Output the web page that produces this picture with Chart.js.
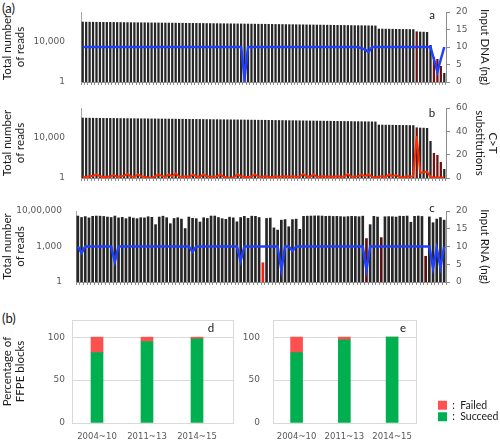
<!DOCTYPE html>
<html><head><meta charset="utf-8">
<script src="https://cdn.jsdelivr.net/npm/chart.js@4.4.1/dist/chart.umd.min.js"></script>
<style>
html,body{margin:0;padding:0;background:#fff;width:500px;height:440px;overflow:hidden;}
canvas{position:absolute;}
.pl{position:absolute;font-family:Lato,"Open Sans",sans-serif;font-size:13px;color:#1a1a1a;line-height:1;}
</style></head>
<body>
<div class="pl" style="left:2px;top:2px">(a)</div>
<div class="pl" style="left:2px;top:312px">(b)</div>
<canvas id="cA" width="500" height="94" style="left:0;top:0"></canvas>
<canvas id="cB" width="500" height="94" style="left:0;top:96px"></canvas>
<canvas id="cC" width="500" height="98" style="left:0;top:196px"></canvas>
<canvas id="cD" width="238" height="140" style="left:0;top:300px"></canvas>
<canvas id="cE" width="262" height="140" style="left:238px;top:300px"></canvas>
<script>
// ---------- DATA ----------
// DNA samples (panels a, b): total reads, input DNA (ng), C>T substitutions
const dnaReads = [
  1070000,1050000,1040000,1030000,1020000,1010000,1000000,990000,985000,975000,
  965000,955000,950000,940000,930000,925000,915000,905000,900000,890000,
  880000,875000,865000,860000,850000,845000,835000,830000,820000,815000,
  805000,800000,790000,785000,775000,770000,760000,755000,745000,740000,
  730000,725000,715000,710000,700000,695000,690000,680000,675000,665000,
  660000,650000,645000,640000,630000,625000,615000,610000,605000,595000,
  590000,585000,575000,570000,565000,555000,550000,545000,540000,530000,
  525000,520000,515000,505000,500000,495000,490000,485000,480000,470000,
  465000,460000,455000,450000,445000,440000,215000,212000,210000,207000,
  205000,202000,200000,197000,195000,192000,190000,115000,108000,105000,
  100000,5000,320,200,40,8
];
const dnaFailed = [97, 102, 103, 104];
const dnaInput = [
  10,10,10,10,10,10,10,10,10,10, 10,10,10,10,10,10,10,10,10,10,
  10,10,10,10,10,10,10,10,10,10, 10,10,10,10,10,10,10,10,10,10,
  10,10,10,10,10,10,10,1,10,10, 10,10,10,10,10,10,10,10,10,10,
  10,10,10,10,10,10,10,10,10,10, 10,10,10,10,10,10,10,10,10,10,
  10,9.6,9.3,8.6,10,10,10,10,10,10, 10,10,10,10,10,10,10,10,10,10,
  10,10,6.5,2.9,6.5,10
];
const dnaCT = [
  1.0,0.8,1.5,2.0,3.0,1.5,0.8,1.0,1.2,2.5, 1.0,1.5,2.0,3.5,1.2,1.0,3.0,1.5,1.0,0.5,
  0.0,1.5,3.0,1.8,1.0,3.0,1.5,4.0,1.2,1.0, 1.5,1.0,2.8,1.5,1.0,3.0,1.5,1.0,1.2,1.5,
  2.8,1.0,0.5,0.0,1.0,3.0,1.5,1.0,0.8,1.2, 3.0,1.2,1.0,1.5,1.0,0.8,1.5,1.0,1.2,1.5,
  1.0,1.5,1.0,1.2,3.5,1.5,1.0,3.0,1.0,1.2, 1.5,1.0,1.2,1.0,1.5,1.0,1.2,3.5,1.0,1.2,
  1.5,3.0,1.5,3.0,1.2,0.5,1.0,1.5,1.0,3.0, 1.5,2.5,1.0,0.5,1.5,1.2,1.5,36,4.5,5.0,
  5.5,1.0,0.5,0.5,0.5,0.5
];
// RNA samples (panel c): total reads, input RNA (ng)
const rnaReads = [
  400000,300000,360000,280000,380000,400000,390000,370000,330000,300000,
  400000,280000,310000,240000,330000,270000,240000,290000,280000,350000,
  310000,75000,330000,390000,290000,90000,250000,290000,220000,35000,
  330000,260000,240000,125000,290000,250000,400000,400000,300000,240000,
  210000,320000,280000,130000,300000,380000,260000,390000,380000,300000,
  45,250000,270000,40000,26000,180000,200000,50000,200000,220000,
  30000,380000,390000,400000,410000,410000,400000,380000,390000,370000,
  380000,360000,340000,360000,380000,370000,350000,390000,5000,75000,
  380000,330000,6000,350000,360000,350000,330000,390000,380000,400000,
  120000,380000,400000,370000,160,340000,110000,220000,300000,180000
];
const rnaFailed = [50];
const rnaLow = [78, 82, 94];
const rnaInput = [
  10,8.2,10,10,10,10,10,10,10,10, 5.7,10,10,10,10,10,10,10,10,10,
  10,10,10,10,10,10,10,10,10,10, 10,8.5,10,10,10,10,10,10,10,10,
  10,10,10,10,5.9,10,10,10,10,10, 10,10,10,10,10,3.4,10,10,8.8,10,
  10,10,10,10,10,10,10,10,10,10, 10,10,10,10,10,10,10,10,3.4,10,
  10,10,10,10,10,10,10,10,10,10, 10,10,10,10,10,10,3.9,9.5,4.1,10
];
// Panel (b): percentage of FFPE blocks
const periods = ['2004~10', '2011~13', '2014~15'];
const dnaSucceedPct = [82, 95, 98];
const dnaFailedPct = [18, 5, 2];
const rnaSucceedPct = [82, 97, 100];
const rnaFailedPct = [18, 3, 0];
// Tick values and labels
const readTicksDNA = [1, 10000];
const readTickLabelsDNA = ['1', '10,000'];
const readTicksRNA = [1, 1000, 1000000];
const readTickLabelsRNA = ['1', '1,000', '10,00,000'];
const inputTicks = [0, 5, 10, 15, 20];
const ctTicks = [0, 10, 20, 30, 40, 50, 60];
const pctTicks = [0, 50, 100];

// ---------- STYLE ----------
const TICK_FONT = {family: '"DejaVu Sans", Verdana, sans-serif', size: 9};
const TITLE_FONT = {family: 'Lato, "Open Sans", sans-serif', size: 11.5};
const TICK_COLOR = '#595959';
const AXIS_COLOR = '#8c8c8c';
const TEXT_COLOR = '#1a1a1a';
const CLEAR = 'rgba(0,0,0,0)';

const letterPlugin = {
  id: 'panelLetter',
  afterDraw(chart, args, o) {
    if (!o || !o.text) return;
    const {ctx, chartArea: a} = chart;
    ctx.save();
    ctx.font = '11.5px Lato, "Open Sans", sans-serif';
    ctx.fillStyle = TEXT_COLOR;
    ctx.textAlign = 'center';
    ctx.textBaseline = 'middle';
    ctx.fillText(o.text, a.right + o.dx, a.top + o.dy);
    ctx.restore();
  }
};
const framePlugin = {
  id: 'frame',
  beforeDatasetsDraw(chart) {
    const {ctx, chartArea: c} = chart;
    ctx.save();
    ctx.strokeStyle = '#d9d9d9';
    ctx.lineWidth = 1;
    ctx.strokeRect(Math.round(c.left) + 0.5, Math.round(c.top) + 0.5, Math.round(c.width), Math.round(c.height));
    ctx.restore();
  }
};

function sampleLabels(n) { return Array.from({length: n}, (_, i) => String(i + 1)); }
function colorsFor(n, groups) {
  return Array.from({length: n}, (_, i) => {
    for (const g of groups) if (g.idx.includes(i)) return g.color;
    return '#262626';
  });
}

function topPanel(id, c) {
  return new Chart(document.getElementById(id), {
    type: 'bar',
    data: {
      labels: c.labels,
      datasets: [
        {type: 'line', label: c.lineLabel, data: c.line, xAxisID: 'x', yAxisID: 'y2',
         borderColor: c.lineColor, borderWidth: c.lineWidth, pointRadius: 0, tension: 0, order: 0},
        {type: 'bar', label: 'Total number of reads', data: c.reads, xAxisID: 'x', yAxisID: 'y',
         backgroundColor: c.colors, barPercentage: c.barPct, categoryPercentage: 1, order: 1}
      ]
    },
    options: {
      responsive: false, animation: false, events: [],
      layout: {padding: {top: c.padTop, left: 0, right: 0, bottom: 0}},
      plugins: {legend: {display: false}, tooltip: {enabled: false},
                panelLetter: {text: c.letter, dx: -14, dy: c.letterDy}},
      scales: {
        x: {ticks: {display: false},
            grid: {display: true, drawOnChartArea: false, drawTicks: true, tickLength: 3, color: AXIS_COLOR, offset: true},
            border: {display: true, color: AXIS_COLOR},
            afterFit(s) { s.height = c.xH; }},
        y: {type: 'logarithmic', position: 'left', min: 1, max: c.logMax,
            afterBuildTicks(s) { s.ticks = c.logTicks.map(v => ({value: v})); },
            ticks: {font: TICK_FONT, color: TICK_COLOR, padding: 2,
                    callback: (v) => c.logLabels[c.logTicks.indexOf(v)]},
            grid: {display: false, drawTicks: true, tickLength: c.leftGap},
            border: {display: true, color: '#a6a6a6'},
            title: {display: true, text: ['Total number', 'of reads'], font: TITLE_FONT, color: TEXT_COLOR, padding: {top: 0, bottom: 0}},
            afterFit(s) { s.width = c.leftW; }},
        y2: {position: 'right', min: 0, max: c.rMax,
            afterBuildTicks(s) { s.ticks = c.rTicks.map(v => ({value: v})); },
            ticks: {font: TICK_FONT, color: TICK_COLOR, padding: 6},
            grid: {drawOnChartArea: false, drawTicks: true, tickLength: 4, color: AXIS_COLOR},
            border: {display: true, color: AXIS_COLOR},
            title: {display: true, text: c.rTitle, font: TITLE_FONT, color: TEXT_COLOR, padding: {top: c.rTitlePad, bottom: 0}},
            afterFit(s) { s.width = 54; }}
      }
    },
    plugins: [letterPlugin]
  });
}

topPanel('cA', {
  labels: sampleLabels(dnaReads.length), reads: dnaReads, line: dnaInput, lineLabel: 'Input DNA (ng)',
  colors: colorsFor(dnaReads.length, [{idx: dnaFailed, color: '#6e1212'}]), barPct: 0.66,
  lineColor: '#2040ff', lineWidth: 2.5, padTop: 12, xH: 12, leftW: 81, leftGap: 14,
  logMax: 1e7, logTicks: readTicksDNA, logLabels: readTickLabelsDNA,
  rMax: 20, rTicks: inputTicks, rTitle: 'Input DNA (ng)', rTitlePad: 8, letter: 'a', letterDy: 3
});
topPanel('cB', {
  labels: sampleLabels(dnaReads.length), reads: dnaReads, line: dnaCT, lineLabel: 'C>T substitutions',
  colors: colorsFor(dnaReads.length, [{idx: dnaFailed, color: '#6e1212'}]), barPct: 0.66,
  lineColor: '#ff2a00', lineWidth: 2, padTop: 12, xH: 12, leftW: 81, leftGap: 14,
  logMax: 1e7, logTicks: readTicksDNA, logLabels: readTickLabelsDNA,
  rMax: 60, rTicks: ctTicks, rTitle: ['C>T', 'substitutions'], rTitlePad: 0, letter: 'b', letterDy: 5
});
topPanel('cC', {
  labels: sampleLabels(rnaReads.length), reads: rnaReads, line: rnaInput, lineLabel: 'Input RNA (ng)',
  colors: colorsFor(rnaReads.length, [{idx: rnaFailed, color: '#ff1a1a'}, {idx: rnaLow, color: '#5a1010'}]), barPct: 0.72,
  lineColor: '#2040ff', lineWidth: 2.5, padTop: 15, xH: 12, leftW: 76, leftGap: 12,
  logMax: 1e6, logTicks: readTicksRNA, logLabels: readTickLabelsRNA,
  rMax: 20, rTicks: inputTicks, rTitle: 'Input RNA (ng)', rTitlePad: 8, letter: 'c', letterDy: -3
});

function pctPanel(id, c) {
  const scales = {
    x: {type: 'linear', stacked: true, min: -0.5, max: c.xMax, offset: false,
        afterBuildTicks(s) { s.ticks = periods.map((p, i) => ({value: i})); },
        ticks: {font: {family: TICK_FONT.family, size: 8.5}, color: TICK_COLOR, padding: 9, callback: (v) => periods[v]},
        grid: {display: false, drawTicks: false, offset: false}, border: {display: false},
        afterFit(s) { s.height = 17; }},
    y: {type: 'linear', position: 'left', stacked: true, min: 0, max: 120,
        afterBuildTicks(s) { s.ticks = pctTicks.map(v => ({value: v})); },
        ticks: {font: TICK_FONT, color: TICK_COLOR, padding: 2},
        grid: {color: '#d9d9d9', drawTicks: true, tickLength: c.yGap, tickColor: CLEAR}, border: {display: false},
        title: c.title ? {display: true, text: c.title, font: TITLE_FONT, color: TEXT_COLOR, padding: {top: 0, bottom: 0}} : {display: false},
        afterFit(s) { s.width = c.leftW; }}
  };
  if (c.legend) {
    scales.sp = {type: 'linear', position: 'right', display: true,
      ticks: {display: false}, grid: {display: false, drawTicks: false}, border: {display: false},
      afterFit(s) { s.width = 21; }};
  }
  return new Chart(document.getElementById(id), {
    type: 'bar',
    data: {
      datasets: [
        {label: 'Succeed', data: c.succeed.map((v, i) => ({x: i, y: v})), xAxisID: 'x', yAxisID: 'y', backgroundColor: '#00b050', barThickness: 12},
        {label: 'Failed', data: c.failed.map((v, i) => ({x: i, y: v})), xAxisID: 'x', yAxisID: 'y', backgroundColor: '#ff5050', barThickness: 12}
      ]
    },
    options: {
      responsive: false, animation: false, events: [],
      layout: {padding: {top: 20, left: 0, right: c.padRight, bottom: 0}},
      plugins: {
        tooltip: {enabled: false},
        panelLetter: {text: c.letter, dx: c.letterDx, dy: 8},
        legend: c.legend ? {
          display: true, position: 'right', align: 'end', fullSize: false, maxWidth: 63, reverse: true,
          labels: {boxWidth: 9, boxHeight: 9, padding: 1, color: TEXT_COLOR,
                   font: {family: 'Lato, "Open Sans", sans-serif', size: 10.5},
                   generateLabels(chart) {
                     return Chart.defaults.plugins.legend.labels.generateLabels(chart)
                       .map(l => Object.assign({}, l, {text: ':  ' + l.text}));
                   }}
        } : {display: false}
      },
      scales
    },
    plugins: [letterPlugin, framePlugin]
  });
}

pctPanel('cD', {succeed: dnaSucceedPct, failed: dnaFailedPct, xMax: 2.72, padRight: 5, leftW: 72, yGap: 5,
  title: ['Percentage of', 'FFPE blocks'], letter: 'd', letterDx: -22, legend: false});
pctPanel('cE', {succeed: rnaSucceedPct, failed: rnaFailedPct, xMax: 2.5, padRight: 0, leftW: 34.7, yGap: 10.7,
  title: null, letter: 'e', letterDx: -13, legend: true});
</script>
</body></html>
